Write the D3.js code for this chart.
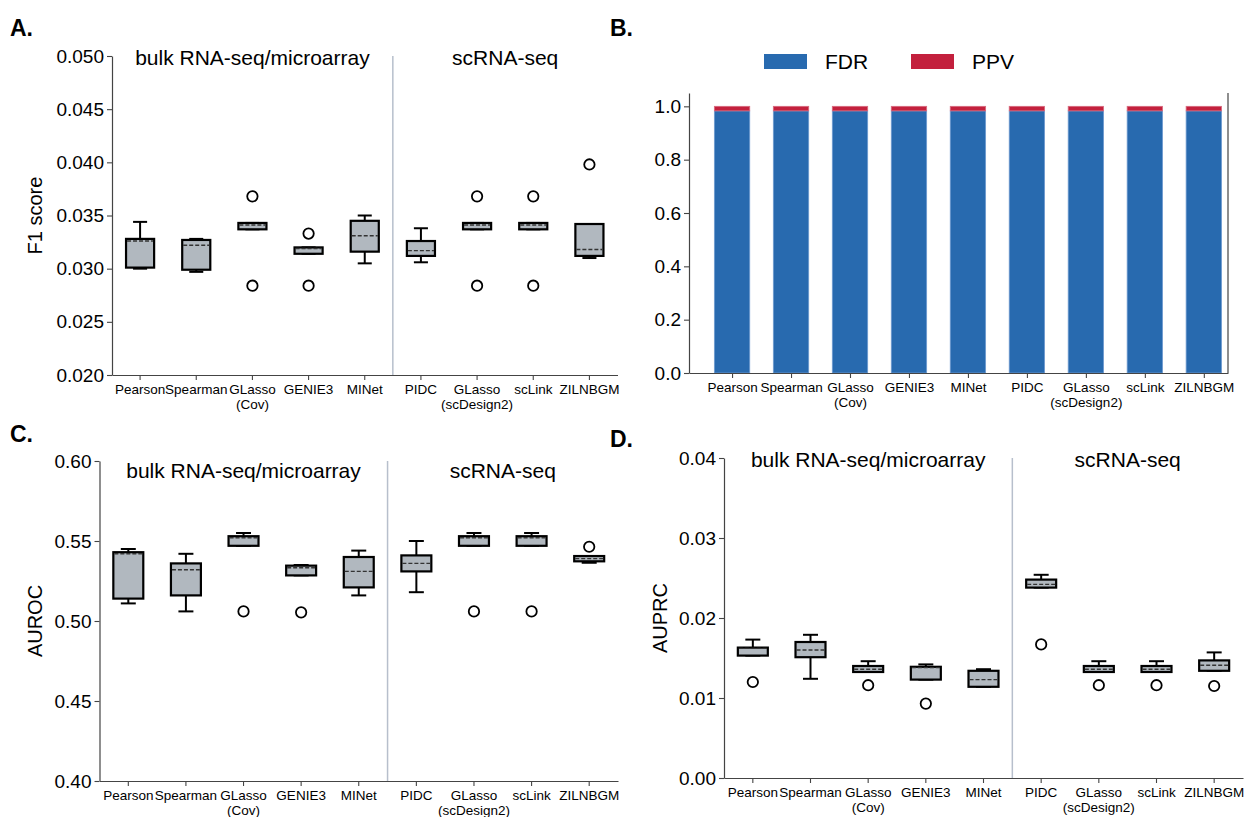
<!DOCTYPE html>
<html>
<head>
<meta charset="utf-8">
<script src="https://cdn.jsdelivr.net/npm/d3@7/dist/d3.min.js"></script>
<style>
  body { margin: 0; background: #fff; }
  svg { font-family: "Liberation Sans", Arial, Helvetica, sans-serif; }
</style>
</head>
<body>
<svg id="chart" width="1248" height="817"></svg>
<script>
// ---------------- DATA ----------------
const categories = ["Pearson", "Spearman", "GLasso\n(Cov)", "GENIE3", "MINet",
                    "PIDC", "GLasso\n(scDesign2)", "scLink", "ZILNBGM"];
const groupTitles = ["bulk RNA-seq/microarray", "scRNA-seq"];
const groupSplit = 5; // first 5 categories are bulk, rest scRNA-seq

// Panel A: F1 score
const f1Lo   = [0.0300, 0.0297, 0.0337, 0.0314, 0.0305, 0.0306, 0.0337, 0.0337, 0.0310];
const f1Q1   = [0.0301, 0.0299, 0.0337, 0.0314, 0.0316, 0.0312, 0.0337, 0.0337, 0.0312];
const f1Q3   = [0.0328, 0.0327, 0.0343, 0.0320, 0.0345, 0.0326, 0.0343, 0.0343, 0.0342];
const f1Hi   = [0.0344, 0.0328, 0.0343, 0.0320, 0.0350, 0.0338, 0.0343, 0.0343, 0.0342];
const f1Mean = [0.0326, 0.0322, 0.0341, 0.0319, 0.0331, 0.0317, 0.0341, 0.0341, 0.0318];
const f1Out  = [[], [], [0.0368, 0.0284], [0.0333, 0.0284], [], [], [0.0368, 0.0284], [0.0368, 0.0284], [0.0398]];
const f1Ticks = [0.020, 0.025, 0.030, 0.035, 0.040, 0.045, 0.050];

// Panel B: FDR / PPV stacked
const fdr = [0.983, 0.983, 0.983, 0.983, 0.983, 0.983, 0.983, 0.983, 0.983];
const ppv = [0.017, 0.017, 0.017, 0.017, 0.017, 0.017, 0.017, 0.017, 0.017];
const bTicks = [0.0, 0.2, 0.4, 0.6, 0.8, 1.0];
const bLegend = ["FDR", "PPV"];

// Panel C: AUROC
const rocLo   = [0.511, 0.506, 0.547, 0.5285, 0.516, 0.518, 0.547, 0.547, 0.5364];
const rocQ1   = [0.514, 0.516, 0.547, 0.5285, 0.521, 0.531, 0.547, 0.547, 0.5373];
const rocQ3   = [0.543, 0.536, 0.553, 0.5346, 0.540, 0.541, 0.553, 0.553, 0.5406];
const rocHi   = [0.545, 0.542, 0.555, 0.535, 0.544, 0.550, 0.555, 0.555, 0.5406];
const rocMean = [0.542, 0.532, 0.552, 0.5333, 0.531, 0.536, 0.552, 0.552, 0.539];
const rocOut  = [[], [], [0.506], [0.5054], [], [], [0.506], [0.506], [0.5464]];
const rocTicks = [0.40, 0.45, 0.50, 0.55, 0.60];

// Panel D: AUPRC
const prLo   = [0.0153, 0.0124, 0.01325, 0.0123, 0.0114, 0.0238, 0.01325, 0.01325, 0.0134];
const prQ1   = [0.0153, 0.0151, 0.01325, 0.0123, 0.0114, 0.0238, 0.01325, 0.01325, 0.0134];
const prQ3   = [0.0163, 0.0170, 0.0140, 0.0139, 0.0134, 0.0248, 0.0140, 0.0140, 0.0147];
const prHi   = [0.0173, 0.0179, 0.0146, 0.0142, 0.0136, 0.0254, 0.0146, 0.0146, 0.0157];
const prMean = [0.0162, 0.0160, 0.0136, 0.0138, 0.0123, 0.0242, 0.0136, 0.0136, 0.0141];
const prOut  = [[0.0120], [], [0.0116], [0.0093], [], [0.0167], [0.0116], [0.0116], [0.0115]];
const prTicks = [0.00, 0.01, 0.02, 0.03, 0.04];

// ---------------- STYLE ----------------
const FONT = '"Liberation Sans", Arial, Helvetica, sans-serif';
const spineColor = "#444";
const boxFill = "#b1b8bf";
const sepColor = "#b7bfcc";
const blue = "#286aaf";
const red = "#c3203d";

const svg = d3.select("#chart");

function styleAxis(g, fontSize) {
  g.selectAll(".domain").attr("stroke", spineColor).attr("stroke-width", 1.2);
  g.selectAll(".tick line").attr("stroke", spineColor).attr("stroke-width", 1.1);
  g.selectAll(".tick text").attr("fill", "#000").style("font-size", fontSize + "px").style("font-family", FONT);
}

function catLabels(g, lineGap) {
  g.selectAll(".tick text").each(function(d, i) {
    const t = d3.select(this);
    const lines = categories[i].split("\n");
    t.text(null);
    lines.forEach((ln, k) => {
      t.append("tspan").attr("x", 0).attr("dy", k === 0 ? "0.71em" : lineGap + "px").text(ln);
    });
  });
}

function boxPanel(cfg) {
  const g = svg.append("g");
  const x = d3.scaleBand().domain(d3.range(categories.length)).range([cfg.x0, cfg.x1]).padding(0);
  const y = d3.scaleLinear().domain(cfg.domain).range([cfg.yb, cfg.yt]);
  const bw = x.bandwidth() * cfg.boxFrac;
  const cw = bw * 0.5;

  // separator
  const sepX = x(groupSplit);
  g.append("line").attr("x1", sepX).attr("x2", sepX).attr("y1", cfg.yt).attr("y2", cfg.yb)
    .attr("stroke", sepColor).attr("stroke-width", 1.5);

  // group titles
  const c0 = (x(0) + x(groupSplit - 1)) / 2 + x.bandwidth() / 2;
  const c1 = (x(groupSplit) + x(categories.length - 1)) / 2 + x.bandwidth() / 2;
  [c0, c1].forEach((cx, i) => {
    g.append("text").attr("x", cx).attr("y", cfg.titleY).attr("text-anchor", "middle")
      .style("font-size", "21px").attr("fill", "#000").text(groupTitles[i]);
  });

  // axes
  const ya = g.append("g").attr("transform", `translate(${cfg.x0},0)`)
    .call(d3.axisLeft(y).tickValues(cfg.ticks).tickFormat(d3.format(cfg.fmt)).tickSize(5).tickPadding(3).tickSizeOuter(0));
  styleAxis(ya, 19);
  const xa = g.append("g").attr("transform", `translate(0,${cfg.yb})`)
    .call(d3.axisBottom(x).tickSize(5).tickPadding(4).tickSizeOuter(0));
  styleAxis(xa, 13.5);
  catLabels(xa, 15);

  // y label
  g.append("text").attr("transform", `translate(${cfg.labelX},${(cfg.yt + cfg.yb) / 2}) rotate(-90)`)
    .attr("text-anchor", "middle").style("font-size", "20px").attr("fill", "#000").text(cfg.ylabel);

  // boxes
  categories.forEach((c, i) => {
    const cx = x(i) + x.bandwidth() / 2;
    const d = cfg.data;
    if (d.hi[i] > d.q3[i]) {
      g.append("line").attr("x1", cx).attr("x2", cx).attr("y1", y(d.q3[i])).attr("y2", y(d.hi[i]))
        .attr("stroke", "#000").attr("stroke-width", 2);
    }
    g.append("line").attr("x1", cx - cw / 2).attr("x2", cx + cw / 2).attr("y1", y(d.hi[i])).attr("y2", y(d.hi[i]))
      .attr("stroke", "#000").attr("stroke-width", 2);
    if (d.lo[i] < d.q1[i]) {
      g.append("line").attr("x1", cx).attr("x2", cx).attr("y1", y(d.q1[i])).attr("y2", y(d.lo[i]))
        .attr("stroke", "#000").attr("stroke-width", 2);
    }
    g.append("line").attr("x1", cx - cw / 2).attr("x2", cx + cw / 2).attr("y1", y(d.lo[i])).attr("y2", y(d.lo[i]))
      .attr("stroke", "#000").attr("stroke-width", 2);
    g.append("rect").attr("x", cx - bw / 2).attr("y", y(d.q3[i]))
      .attr("width", bw).attr("height", Math.max(1, y(d.q1[i]) - y(d.q3[i])))
      .attr("fill", boxFill).attr("stroke", "#000").attr("stroke-width", 2.2);
    g.append("line").attr("x1", cx - bw / 2 + 1).attr("x2", cx + bw / 2 - 1)
      .attr("y1", y(d.mean[i])).attr("y2", y(d.mean[i]))
      .attr("stroke", "#333").attr("stroke-width", 1.4).attr("stroke-dasharray", "4,2");
    d.out[i].forEach(v => {
      g.append("circle").attr("cx", cx).attr("cy", y(v)).attr("r", 5.2)
        .attr("fill", "#fff").attr("stroke", "#000").attr("stroke-width", 1.8);
    });
  });
}

// Panel A
boxPanel({
  x0: 112, x1: 617.5, yt: 56, yb: 375, domain: [0.020, 0.050], ticks: f1Ticks, fmt: ".3f",
  boxFrac: 0.5, titleY: 65, ylabel: "F1 score", labelX: 42,
  data: { lo: f1Lo, q1: f1Q1, q3: f1Q3, hi: f1Hi, mean: f1Mean, out: f1Out }
});
// Panel C
boxPanel({
  x0: 99.5, x1: 618, yt: 461, yb: 781, domain: [0.40, 0.60], ticks: rocTicks, fmt: ".2f",
  boxFrac: 0.52, titleY: 478, ylabel: "AUROC", labelX: 42,
  data: { lo: rocLo, q1: rocQ1, q3: rocQ3, hi: rocHi, mean: rocMean, out: rocOut }
});
// Panel D
boxPanel({
  x0: 724, x1: 1243, yt: 458, yb: 778, domain: [0.00, 0.04], ticks: prTicks, fmt: ".2f",
  boxFrac: 0.52, titleY: 467, ylabel: "AUPRC", labelX: 667,
  data: { lo: prLo, q1: prQ1, q3: prQ3, hi: prHi, mean: prMean, out: prOut }
});

// Panel B: stacked bars
(function() {
  const g = svg.append("g");
  const x = d3.scaleLinear().domain([-0.73, 8.41]).range([689, 1228]);
  const y = d3.scaleLinear().domain([0, 1.05]).range([373, 93]);
  const step = x(1) - x(0);
  const bw = step * 0.6;

  categories.forEach((c, i) => {
    const cx = x(i);
    g.append("rect").attr("x", cx - bw / 2).attr("y", y(fdr[i])).attr("width", bw)
      .attr("height", y(0) - y(fdr[i])).attr("fill", blue).attr("stroke", "#6f9bd0").attr("stroke-width", 0.8);
    g.append("rect").attr("x", cx - bw / 2).attr("y", y(fdr[i] + ppv[i])).attr("width", bw)
      .attr("height", y(fdr[i]) - y(fdr[i] + ppv[i])).attr("fill", red).attr("stroke", "#d86a7e").attr("stroke-width", 0.8);
  });

  const ya = g.append("g").attr("transform", "translate(689,0)")
    .call(d3.axisLeft(y).tickValues(bTicks).tickFormat(d3.format(".1f")).tickSize(5).tickPadding(3).tickSizeOuter(0));
  styleAxis(ya, 19);
  const xa = g.append("g").attr("transform", "translate(0,373)")
    .call(d3.axisBottom(x).tickValues(d3.range(categories.length)).tickSize(5).tickPadding(4).tickSizeOuter(0));
  styleAxis(xa, 13.5);
  catLabels(xa, 15);
  g.append("line").attr("x1", 1228).attr("x2", 1228).attr("y1", 93).attr("y2", 373)
    .attr("stroke", spineColor).attr("stroke-width", 1.2);

  const leg = [{ x: 764, c: blue, t: bLegend[0] }, { x: 911, c: red, t: bLegend[1] }];
  leg.forEach(l => {
    g.append("rect").attr("x", l.x).attr("y", 54).attr("width", 43).attr("height", 15).attr("fill", l.c);
    g.append("text").attr("x", l.x + 61).attr("y", 69).style("font-size", "21px").attr("fill", "#000").text(l.t);
  });
})();

// Panel letters
[["A.", 10, 36], ["B.", 610, 36], ["C.", 10, 442], ["D.", 610, 447]].forEach(p => {
  svg.append("text").attr("x", p[1]).attr("y", p[2]).style("font-size", "23px")
    .style("font-weight", "bold").attr("fill", "#000").text(p[0]);
});
</script>
</body>
</html>
